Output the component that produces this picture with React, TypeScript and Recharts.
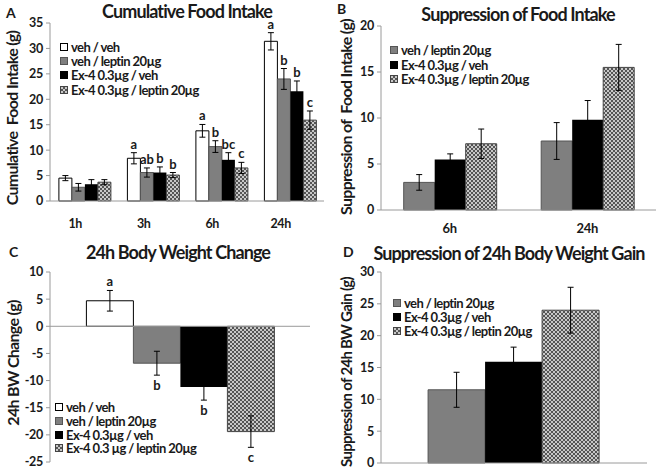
import React from 'react';
import { BarChart, Bar, XAxis, YAxis, ErrorBar, ReferenceLine } from 'recharts';

// A: cumulative food intake (g)
const timesA = ['1h', '3h', '6h', '24h'];
const vehVehA = [4.5, 8.4, 13.8, 31.4];
const vehVehErrA = [0.5, 1.1, 1.25, 1.7];
const leptinA = [2.7, 5.6, 10.7, 24.0];
const leptinErrA = [0.75, 0.9, 1.15, 2.05];
const ex4A = [3.3, 5.6, 8.1, 21.6];
const ex4ErrA = [0.9, 1.1, 1.4, 2.0];
const comboA = [3.7, 5.1, 6.5, 15.9];
const comboErrA = [0.5, 0.5, 1.1, 1.8];
const vehVehLettersA = ['', 'a', 'a', 'a'];
const leptinLettersA = ['', 'ab', 'b', 'b'];
const ex4LettersA = ['', 'b', 'bc', 'b'];
const comboLettersA = ['', 'b', 'c', 'c'];
const ticksA = [0, 5, 10, 15, 20, 25, 30, 35];

// B: suppression of food intake (g)
const timesB = ['6h', '24h'];
const leptinB = [3.0, 7.5];
const leptinErrB = [0.85, 2.0];
const ex4B = [5.5, 9.8];
const ex4ErrB = [0.6, 2.1];
const comboB = [7.2, 15.5];
const comboErrB = [1.6, 2.5];
const ticksB = [0, 5, 10, 15, 20];

// C: 24h body weight change (g)
const groupC = ['24h'];
const vehVehC = [4.7];
const vehVehErrC = [1.9];
const leptinC = [-6.8];
const leptinErrC = [2.2];
const ex4C = [-11.2];
const ex4ErrC = [2.4];
const comboC = [-19.4];
const comboErrC = [2.9];
const vehVehLettersC = ['a'];
const leptinLettersC = ['b'];
const ex4LettersC = ['b'];
const comboLettersC = ['c'];
const ticksC = [-25, -20, -15, -10, -5, 0, 5, 10];

// D: suppression of 24h body weight gain (g)
const groupD = ['24h'];
const leptinD = [11.5];
const leptinErrD = [2.75];
const ex4D = [15.9];
const ex4ErrD = [2.3];
const comboD = [24.0];
const comboErrD = [3.6];
const ticksD = [0, 5, 10, 15, 20, 25, 30];

const FONT = 'Lato, "Open Sans", sans-serif';
const AXIS = '#9a9a9a';
const TEXT = '#1a1a1a';

const tickStyle = { fontSize: 12.5, fontWeight: 700, fill: TEXT, fontFamily: FONT, letterSpacing: -0.3 };

const swatches: Record<string, React.CSSProperties> = {
  white: { background: '#fff', border: '1px solid #000' },
  gray: { background: '#7f7f7f', border: '1px solid #555' },
  black: { background: '#000', border: '1px solid #000' },
  hatch: {
    background: 'repeating-conic-gradient(#555 0% 25%, #c8c8c8 0% 50%) 0 0 / 4px 4px',
    border: '1px solid #444',
  },
};

const Hatch = ({ id }: { id: string }) => (
  <defs>
    <pattern id={id} width="4" height="4" patternUnits="userSpaceOnUse">
      <rect width="4" height="4" fill="#c8c8c8" />
      <rect width="2" height="2" fill="#555" />
      <rect x="2" y="2" width="2" height="2" fill="#555" />
    </pattern>
  </defs>
);

const letterLabel = (letters: string[], values: number[], errs: number[]) => (props: any) => {
  const { x, y, width, height, index } = props;
  const text = letters[index];
  if (!text) return null;
  const v = values[index];
  const ppu = Math.abs(height / v);
  const top = Math.min(y, y + height);
  const bottom = Math.max(y, y + height);
  const ty = v >= 0 ? top - errs[index] * ppu - 4 : bottom + errs[index] * ppu + 15;
  return (
    <text key={`l-${index}`} x={x + width / 2} y={ty} textAnchor="middle" fontSize={13} fontWeight={700} fill={TEXT} fontFamily={FONT}>
      {text}
    </text>
  );
};

const Legend = ({ items, left, top, step }: { items: [string, string][]; left: number; top: number; step: number }) => (
  <>
    {items.map(([kind, label], i) => (
      <div
        key={label}
        style={{ position: 'absolute', left, top: top + i * step, display: 'flex', alignItems: 'center', height: 12, whiteSpace: 'nowrap' }}
      >
        <span style={{ width: 6, height: 6, display: 'inline-block', ...swatches[kind] }} />
        <span style={{ marginLeft: 3, fontSize: 13, lineHeight: '12px', fontWeight: 700, color: TEXT, fontFamily: FONT, letterSpacing: -0.6 }}>{label}</span>
      </div>
    ))}
  </>
);

const Title = ({ text, x, y }: { text: string; x: number; y: number }) => (
  <div style={{ position: 'absolute', left: x, top: y, transform: 'translate(-50%, -50%)', fontSize: 18, lineHeight: '18px', fontWeight: 700, color: TEXT, fontFamily: FONT, letterSpacing: -0.9, whiteSpace: 'nowrap' }}>
    {text}
  </div>
);

const YTitle = ({ text, x, y, size = 16 }: { text: string; x: number; y: number; size?: number }) => (
  <div style={{ position: 'absolute', left: x, top: y, transform: 'translate(-50%, -50%) rotate(-90deg)', fontSize: size, lineHeight: `${size}px`, fontWeight: 700, color: TEXT, fontFamily: FONT, letterSpacing: -0.7, whiteSpace: 'pre' }}>
    {text}
  </div>
);

const PanelLetter = ({ text, x, y }: { text: string; x: number; y: number }) => (
  <div style={{ position: 'absolute', left: x, top: y, transform: 'translateY(-50%)', fontSize: 14, lineHeight: '14px', fontWeight: 700, color: TEXT, fontFamily: FONT }}>
    {text}
  </div>
);

const App: React.FC = () => {
  const dataA = timesA.map((t, i) => ({
    time: t,
    vehVeh: vehVehA[i], vehVehErr: vehVehErrA[i],
    leptin: leptinA[i], leptinErr: leptinErrA[i],
    ex4: ex4A[i], ex4Err: ex4ErrA[i],
    combo: comboA[i], comboErr: comboErrA[i],
  }));
  const dataB = timesB.map((t, i) => ({
    time: t,
    leptin: leptinB[i], leptinErr: leptinErrB[i],
    ex4: ex4B[i], ex4Err: ex4ErrB[i],
    combo: comboB[i], comboErr: comboErrB[i],
  }));
  const dataC = groupC.map((g, i) => ({
    group: g,
    vehVeh: vehVehC[i], vehVehErr: vehVehErrC[i],
    leptin: leptinC[i], leptinErr: leptinErrC[i],
    ex4: ex4C[i], ex4Err: ex4ErrC[i],
    combo: comboC[i], comboErr: comboErrC[i],
  }));
  const dataD = groupD.map((g, i) => ({
    group: g,
    leptin: leptinD[i], leptinErr: leptinErrD[i],
    ex4: ex4D[i], ex4Err: ex4ErrD[i],
    combo: comboD[i], comboErr: comboErrD[i],
  }));

  const err = (key: string) => <ErrorBar dataKey={key} width={3} stroke="#000" strokeWidth={1} />;
  const yAxis = (domain: [number, number], ticks: number[]) => (
    <YAxis
      domain={domain}
      ticks={ticks}
      width={50}
      interval={0}
      axisLine={{ stroke: AXIS }}
      tickLine={{ stroke: AXIS }}
      tickSize={4}
      tickMargin={3}
      tick={tickStyle}
    />
  );

  return (
    <div style={{ position: 'absolute', left: 0, top: 0, width: 662, height: 471, background: '#fff', overflow: 'hidden' }}>
      {/* A */}
      <div style={{ position: 'absolute', left: 0, top: 0, width: 331, height: 235 }}>
        <BarChart width={331} height={235} data={dataA} margin={{ top: 23, right: 7, bottom: 4, left: 0 }} barCategoryGap="13%" barGap={0}>
          <Hatch id="hatchA" />
          <XAxis dataKey="time" height={30} axisLine={{ stroke: AXIS }} tickLine={false} tickMargin={12} tick={{ ...tickStyle, dx: -9 }} />
          {yAxis([0, 35], ticksA)}
          <Bar dataKey="vehVeh" fill="#fff" stroke="#000" isAnimationActive={false} label={letterLabel(vehVehLettersA, vehVehA, vehVehErrA)}>
            {err('vehVehErr')}
          </Bar>
          <Bar dataKey="leptin" fill="#7f7f7f" stroke="#555" isAnimationActive={false} label={letterLabel(leptinLettersA, leptinA, leptinErrA)}>
            {err('leptinErr')}
          </Bar>
          <Bar dataKey="ex4" fill="#000" isAnimationActive={false} label={letterLabel(ex4LettersA, ex4A, ex4ErrA)}>
            {err('ex4Err')}
          </Bar>
          <Bar dataKey="combo" fill="url(#hatchA)" stroke="#444" isAnimationActive={false} label={letterLabel(comboLettersA, comboA, comboErrA)}>
            {err('comboErr')}
          </Bar>
        </BarChart>
        <PanelLetter text="A" x={6} y={13} />
        <Title text="Cumulative Food Intake" x={187} y={11} />
        <YTitle text="Cumulative  Food Intake (g)" x={12} y={118} />
        <Legend
          left={60}
          top={41}
          step={14.2}
          items={[
            ['white', 'veh / veh'],
            ['gray', 'veh / leptin 20µg'],
            ['black', 'Ex-4 0.3µg / veh'],
            ['hatch', 'Ex-4 0.3µg / leptin 20µg'],
          ]}
        />
      </div>

      {/* B */}
      <div style={{ position: 'absolute', left: 331, top: 0, width: 331, height: 235 }}>
        <BarChart width={331} height={235} data={dataB} margin={{ top: 26, right: 6, bottom: 3, left: 0 }} barCategoryGap="16.5%" barGap={0}>
          <Hatch id="hatchB" />
          <XAxis dataKey="time" height={22} axisLine={{ stroke: AXIS }} tickLine={false} tickMargin={8} tick={{ ...tickStyle, fontSize: 13 }} />
          {yAxis([0, 20], ticksB)}
          <Bar dataKey="leptin" fill="#7f7f7f" stroke="#555" isAnimationActive={false}>
            {err('leptinErr')}
          </Bar>
          <Bar dataKey="ex4" fill="#000" isAnimationActive={false}>
            {err('ex4Err')}
          </Bar>
          <Bar dataKey="combo" fill="url(#hatchB)" stroke="#444" isAnimationActive={false}>
            {err('comboErr')}
          </Bar>
        </BarChart>
        <PanelLetter text="B" x={6} y={9} />
        <Title text="Suppression of Food Intake" x={187} y={14} />
        <YTitle text="Suppression of  Food Intake (g)" x={15} y={117} />
        <Legend
          left={59}
          top={44}
          step={14.5}
          items={[
            ['gray', 'veh / leptin 20µg'],
            ['black', 'Ex-4 0.3µg / veh'],
            ['hatch', 'Ex-4 0.3µg / leptin 20µg'],
          ]}
        />
      </div>

      {/* C */}
      <div style={{ position: 'absolute', left: 0, top: 235, width: 331, height: 236 }}>
        <BarChart width={331} height={236} data={dataC} margin={{ top: 37, right: 21, bottom: 9, left: 0 }} barCategoryGap="14%" barGap={0}>
          <Hatch id="hatchC" />
          <XAxis dataKey="group" hide />
          {yAxis([-25, 10], ticksC)}
          <ReferenceLine y={0} stroke={AXIS} />
          <Bar dataKey="vehVeh" fill="#fff" stroke="#000" isAnimationActive={false} label={letterLabel(vehVehLettersC, vehVehC, vehVehErrC)}>
            {err('vehVehErr')}
          </Bar>
          <Bar dataKey="leptin" fill="#7f7f7f" stroke="#555" isAnimationActive={false} label={letterLabel(leptinLettersC, leptinC, leptinErrC)}>
            {err('leptinErr')}
          </Bar>
          <Bar dataKey="ex4" fill="#000" isAnimationActive={false} label={letterLabel(ex4LettersC, ex4C, ex4ErrC)}>
            {err('ex4Err')}
          </Bar>
          <Bar dataKey="combo" fill="url(#hatchC)" stroke="#444" isAnimationActive={false} label={letterLabel(comboLettersC, comboC, comboErrC)}>
            {err('comboErr')}
          </Bar>
        </BarChart>
        <PanelLetter text="C" x={9} y={17} />
        <Title text="24h Body Weight Change" x={178} y={17} />
        <YTitle text="24h BW Change (g)" x={13} y={128} />
        <Legend
          left={55}
          top={166}
          step={13.8}
          items={[
            ['white', 'veh / veh'],
            ['gray', 'veh / leptin 20µg'],
            ['black', 'Ex-4 0.3µg / veh'],
            ['hatch', 'Ex-4 0.3 µg / leptin 20µg'],
          ]}
        />
      </div>

      {/* D */}
      <div style={{ position: 'absolute', left: 331, top: 235, width: 331, height: 236 }}>
        <BarChart width={331} height={236} data={dataD} margin={{ top: 37, right: 15, bottom: 7, left: 0 }} barCategoryGap="17.7%" barGap={0}>
          <Hatch id="hatchD" />
          <XAxis dataKey="group" height={1} tick={false} tickLine={false} axisLine={{ stroke: AXIS }} />
          {yAxis([0, 30], ticksD)}
          <Bar dataKey="leptin" fill="#7f7f7f" stroke="#555" isAnimationActive={false}>
            {err('leptinErr')}
          </Bar>
          <Bar dataKey="ex4" fill="#000" isAnimationActive={false}>
            {err('ex4Err')}
          </Bar>
          <Bar dataKey="combo" fill="url(#hatchD)" stroke="#444" isAnimationActive={false}>
            {err('comboErr')}
          </Bar>
        </BarChart>
        <PanelLetter text="D" x={12} y={17} />
        <Title text="Suppression of 24h Body Weight Gain" x={178} y={18} />
        <YTitle text="Suppression of 24h BW Gain (g)" x={15} y={137} size={15} />
        <Legend
          left={62}
          top={62}
          step={14}
          items={[
            ['gray', 'veh / leptin 20µg'],
            ['black', 'Ex-4 0.3µg / veh'],
            ['hatch', 'Ex-4 0.3µg / leptin 20µg'],
          ]}
        />
      </div>
    </div>
  );
};

export default App;
